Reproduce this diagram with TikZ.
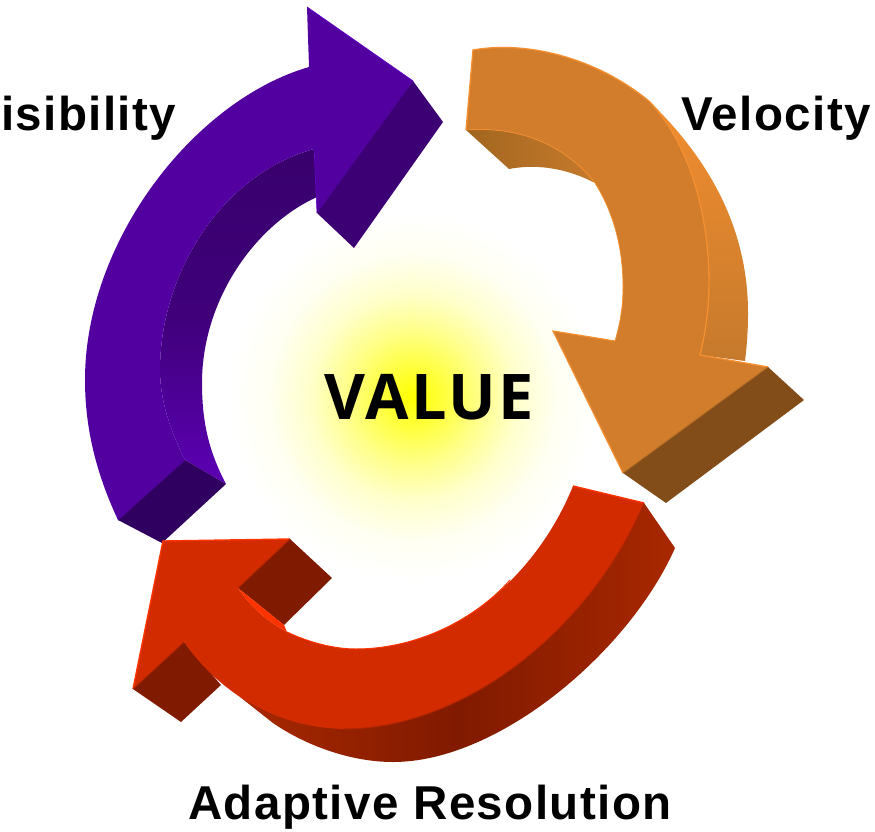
\documentclass[tikz,border=0pt]{standalone}
\usepackage{fontspec}
\setmainfont{Liberation Sans}
\newfontfamily\labelfont[LetterSpace=3]{Liberation Sans}
\newfontfamily\valuefont[LetterSpace=4]{Open Sans}
\definecolor{pFront}{HTML}{5200A0}
\definecolor{pHigh}{HTML}{6000C8}
\definecolor{pSide}{HTML}{38006C}
\definecolor{pEnd}{HTML}{300060}
\definecolor{pGlow}{HTML}{5C00B4}
\definecolor{pHead}{HTML}{3C0074}
\definecolor{pEdge}{HTML}{480090}
\definecolor{oFront}{HTML}{D27D2C}
\definecolor{oHigh}{HTML}{F58F30}
\definecolor{oEnd}{HTML}{824D19}
\definecolor{oDark}{HTML}{A2661F}
\definecolor{oMid}{HTML}{C67A2C}
\definecolor{oEdge}{HTML}{B06A22}
\definecolor{rFront}{HTML}{D22B00}
\definecolor{rHigh}{HTML}{FF3300}
\definecolor{rEnd}{HTML}{801A00}
\definecolor{rSide}{HTML}{A82800}
\definecolor{rEdge}{HTML}{B02400}
\definecolor{glowY}{HTML}{FFFF00}
\pgfdeclareradialshading{valueglow}{\pgfpoint{0bp}{0bp}}{
  color(0bp)=(glowY); color(3.5bp)=(glowY!78!white); color(8.5bp)=(glowY!45!white);
  color(13bp)=(glowY!20!white); color(18bp)=(glowY!5!white); color(23bp)=(white); color(50bp)=(white)}
\tikzset{
  label/.style={font=\labelfont\bfseries\fontsize{47.5}{56}\selectfont,text=black,inner sep=0pt,anchor=base west},
  bigtext/.style={font=\valuefont\bfseries\fontsize{63}{76}\selectfont,text=black,inner sep=0pt,anchor=base west}
}
% purple curves
\def\pOuter{.. controls (97,475) and (85,430) .. (85,380) .. controls (85,240) and (195,100) .. (309,67)}
\def\pInner{.. controls (220,175) and (160,275) .. (160,370) .. controls (160,400) and (170,430) .. (185,460)}
% orange curves
\def\oOuter{.. controls (530,40) and (600,60) .. (650,102) .. controls (690,145) and (709,215) .. (709,283) .. controls (709,310) and (705,335) .. (700,355)}
\def\oInner{.. controls (621,320) and (623,305) .. (623,287) .. controls (623,245) and (612,210) .. (595,183) .. controls (565,145) and (520,126) .. (466,130)}
\def\oBack{.. controls (715,165) and (748,235) .. (748,313) .. controls (748,330) and (747,345) .. (745,361)}
% red curves
\def\rOuter{.. controls (590,630) and (465,728) .. (345,729) .. controls (300,728) and (270,715) .. (240,697) .. controls (215,680) and (198,662) .. (184,642)}
\def\rInner{.. controls (250,606) and (265,620) .. (287,632) .. controls (310,643) and (335,649) .. (356,649) .. controls (450,649) and (535,580) .. (573,486)}
\def\rBack{.. controls (630,650) and (500,762) .. (393,762) .. controls (350,762) and (305,745) .. (273,723) -- (240,697)}
\begin{document}
\begin{tikzpicture}[x=1pt,y=-1pt]
\useasboundingbox (0,0) rectangle (875,832);
\fill[white] (0,0) rectangle (875,832);
% glow
\shade[shading=valueglow] (413,397) circle (200);
% PURPLE
\shade[top color=pSide,bottom color=pGlow,middle color=pSide!80!pGlow]
  (314,149) \pInner -- (226,484)
  .. controls (208,450) and (202,420) .. (202,383) .. controls (202,300) and (255,225) .. (317,197) -- cycle;
\fill[pEnd] (118,520) -- (185,460) -- (226,484) -- (162,543) -- cycle;
\fill[pHead] (413,81) -- (443,122) -- (354,248) -- (317,213) -- cycle;
\fill[pFront] (118,520) \pOuter -- (307,7) -- (413,81) -- (317,213) -- (314,149) \pInner -- cycle;
\draw[pHigh,line width=0.8pt] (307,7) -- (413,81);
\draw[pHigh,line width=0.6pt] (317,213) -- (314,149);
\draw[pEdge,line width=0.8pt] (413,81) -- (317,213);
\draw[pEdge,line width=0.8pt] (118,520) -- (185,460);
% ORANGE
\shade[top color=oHigh!90!oFront,bottom color=oMid]
  (650,102) \oBack -- (700,355) -- (709,283) -- cycle;
\shade[left color=oDark,right color=oMid]
  (466,130) .. controls (520,126) and (565,145) .. (595,183)
  .. controls (570,170) and (540,163) .. (509,169) -- cycle;
\fill[oEnd] (768,367) -- (804,400) -- (666,503) -- (623,473) -- cycle;
\fill[oFront] (473,50) \oOuter -- (768,367) -- (623,473) -- (553,331) -- (615,341) \oInner -- cycle;
\draw[oHigh,line width=1.3pt] (466,130) -- (473,50) \oOuter -- (768,367);
\draw[oHigh,line width=1.2pt] (623,473) -- (553,331) -- (615,341);
\draw[oHigh,line width=0.7pt] (615,341) \oInner;
\draw[oEdge,line width=0.9pt] (768,367) -- (623,473);
% RED
\shade[left color=rSide,right color=rSide,middle color=rEnd]
  (675,548) \rBack -- (345,720) -- (429,700) -- (593,590) -- (644,503) -- cycle;
\fill[rEnd] (290,539) -- (332,578) -- (284,625) -- (238,588) -- cycle;
\fill[rEnd] (133,689) -- (181,722) -- (221,685) -- (184,642) -- cycle;
\fill[rFront] (644,503) \rOuter -- (133,689) -- (163,541) -- (290,539) -- (238,588) \rInner -- cycle;
\fill[rHigh] (238,588) -- (284,625) -- (287,632) .. controls (265,620) and (250,606) .. (238,588) -- cycle;
\draw[rHigh,line width=1.4pt] (133,689) -- (163,541) -- (290,539);
\draw[rHigh,line width=1.4pt] (573,486) -- (644,503);
\draw[rHigh,line width=1pt] (287,632) .. controls (310,643) and (335,649) .. (356,649) .. controls (410,649) and (470,625) .. (510,580);
\draw[rEdge,line width=1pt] (290,539) -- (238,588);
\draw[rEdge,line width=1pt] (133,689) -- (184,642);
\draw[rEdge,line width=1pt] (644,503) .. controls (590,630) and (465,728) .. (345,729);
% TEXT
\node[label] (vis) at (1,131) {isibility};
\node[label] (vel) at (681,131) {Velocity};
\node[label] (ada) at (188,819) {Adaptive Resolution};
\node[bigtext] (val) at (324,419) {VALUE};
\end{tikzpicture}
\end{document}
